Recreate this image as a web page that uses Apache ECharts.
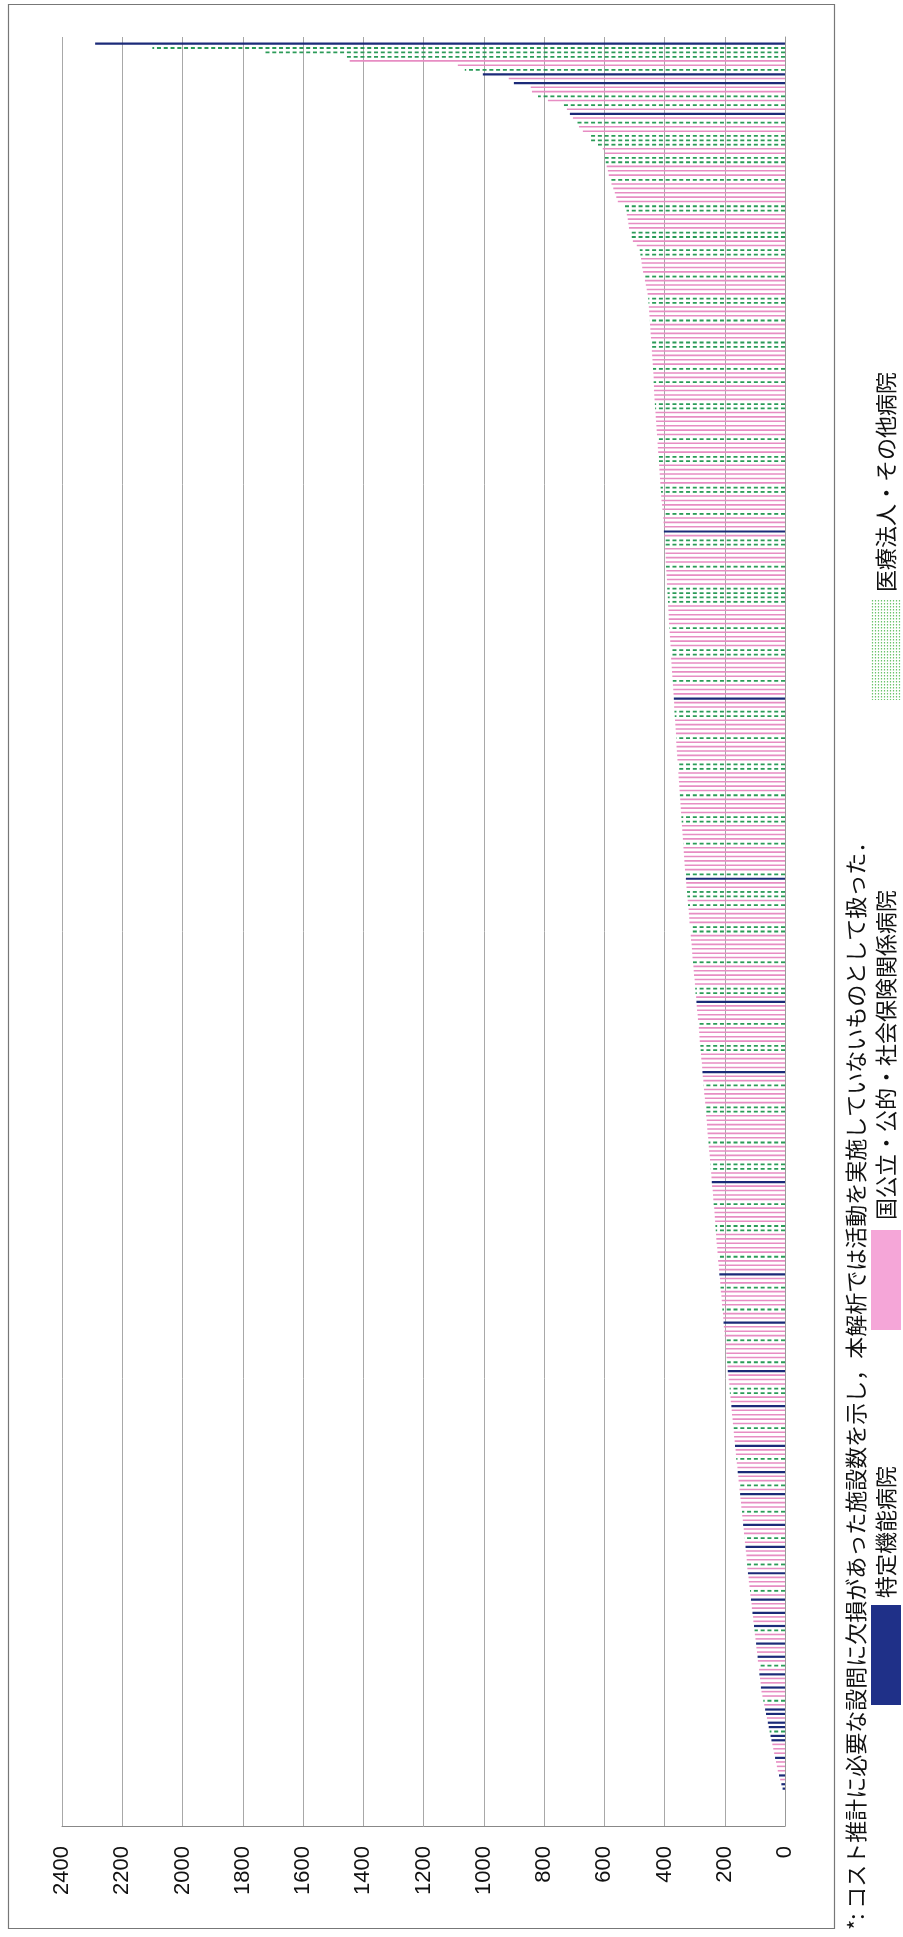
<!DOCTYPE html>
<html><head><meta charset="utf-8">
<script src="https://cdn.jsdelivr.net/npm/echarts@6/dist/echarts.min.js"></script>
<style>html,body{margin:0;padding:0;background:#fff}#c{width:903px;height:1937px}</style>
</head><body><div id="c"></div>
<script>
// values listed from the top category (largest) down to the bottom category
const values = [
0,
2290,2100,1728,1455,1445,1086,1063,1003,917,900,
844,840,820,787,737,724,714,704,691,684,
671,648,645,621,605,598,598,
595,592,588,585,580,576,570,565,560,
555,532,526,525,522,520,518,517,515,505,492,
482,480,478,476,474,471,468,465,462,459,456,
454,453,452,451,450,449,448,447,446,445,444,443,442,441,440,439,438,437,436,436,435,435,
434,433,432,431,430,429,428,427,426,425,424,423,422,421,420,419,418,417,416,415,414,413,412,411,410,408,407,405,
404,403,402,402,401,400,399,398,397,396,396,395,394,393,392,392,391,390,389,388,388,387,386,386,385,
384,383,382,381,380,379,378,378,377,376,375,374,373,372,371,370,369,368,368,367,366,365,364,363,362,361,361,360,
359,358,357,356,355,354,353,352,351,350,349,348,347,346,345,344,343,342,341,340,339,338,337,336,335,334,333,332,330,
329,328,327,325,324,323,322,320,319,318,317,315,314,313,312,310,309,308,307,305,304,303,302,300,
299,298,297,295,294,293,292,290,289,288,286,285,284,283,281,280,279,278,276,275,274,273,271,270,269,268,266,265,
264,263,262,260,259,258,257,255,254,253,252,250,249,248,247,245,244,243,242,240,239,238,237,235,234,233,232,231,230,
229,228,227,225,224,223,222,220,219,218,216,215,214,213,211,210,209,208,206,205,204,203,201,200,199,198,196,195,
194,192,191,190,188,187,185,184,183,181,180,178,177,176,174,173,171,170,169,167,166,164,163,162,160,
158,157,155,154,152,151,149,148,146,145,143,142,140,139,137,136,134,133,131,130,128,127,126,125,
123,121,120,118,116,115,113,111,110,108,106,105,103,101,100,98,96,95,93,91,90,88,86,85,83,81,80,78,75,
72,69,66,63,60,57,54,51,48,45,42,39,36,33,30,27,24,20,16,12,8,
0,0,0,0,0,0,0,0
];
// hospital type of each category: n = 特定機能病院, p = 国公立・公的・社会保険関係病院, g = 医療法人・その他病院
const types = "p" +
"ngggppgnpnppgpgpnpgppgggppg" +
"gpppgpppppggppppggppggppppgpp" +
"ppggpppgpp"+"ppggppppgp"+"pgppppggpp"+"ppppgpppgg"+"pppppggppp"+
"pgpppnpggp"+"pppgppppgg"+"ggpppppgpp"+"ppggpppppg"+"pppnppggpp"+
"ppgpppppgg"+"pppppgpppp"+"ggppppgppp"+"pppgnppggp"+"gppppggppp"+
"pppgpppppg"+"gpnppppgpp"+"ppggppppnp"+"pgppppggpp"+"ppppgppppg"+
"gppnppppgp"+"pppggppppp"+"gpppnppgpp"+"ppgppnpppg"+"ppppgpnppp"+
"ggppnppppg"+"pppnppgppn"+"ppgpnpppgp"+"pnppgpnppp"+"gpnpppgpnp"+
"pnppngppnp"+"pnpgpnppnp"+"p"+
"gpnnpnngnnpppnpppnpnn"+
"pppppppp";
const tickMin = 0, tickMax = 2400, tickStep = 200;
const legendNames = ['特定機能病院', '国公立・公的・社会保険関係病院', '医療法人・その他病院'];
const footnote = '*: コスト推計に必要な設問に欠損があった施設数を示し，本解析では活動を実施していないものとして扱った．';

const cats = values.map((v, i) => String(i + 1));
const pick = c => values.map((v, i) => (types[i] === c ? v : '-'));

const NAVY = '#1b2a78', PINK = '#e78dc3', GREEN = '#2b9b58';
const chart = echarts.init(document.getElementById('c'), null, {renderer: 'canvas'});
const R = Math.PI / 2;
const JP = 'Noto Sans CJK JP';

// green legend swatch: fine vertical dotted lines
const greenSwatch = [];
for (let k = 0; k < 10; k++) {
  greenSwatch.push({type: 'line', shape: {x1: 872.5 + k * 3, y1: 600, x2: 872.5 + k * 3, y2: 700},
    style: {stroke: '#6cc46c', lineWidth: 1.2, lineDash: [1.5, 1.5]}, silent: true});
}

chart.setOption({
  animation: false,
  backgroundColor: '#fff',
  grid: {left: 62, right: 118, top: 37, bottom: 111, containLabel: false},
  xAxis: {
    type: 'value', inverse: true, min: tickMin, max: tickMax, interval: tickStep, position: 'bottom',
    axisLine: {show: true, lineStyle: {color: '#888', width: 1}},
    axisTick: {show: false},
    splitLine: {show: true, lineStyle: {color: '#a8a8a8', width: 1}},
    axisLabel: {rotate: 90, fontSize: 22, color: '#111', fontFamily: 'Liberation Sans', margin: 20,
      formatter: v => String(v)}
  },
  yAxis: {
    type: 'category', inverse: true, data: cats, position: 'right',
    axisLine: {show: true, lineStyle: {color: '#999'}},
    axisTick: {show: false}, axisLabel: {show: false}, splitLine: {show: false}
  },
  series: [
    {name: legendNames[1], type: 'bar', data: pick('p'), barWidth: 1.6, barGap: '-100%', itemStyle: {color: PINK}},
    {name: legendNames[0], type: 'bar', data: pick('n'), barWidth: 2.2, barGap: '-100%', itemStyle: {color: NAVY}},
    {name: legendNames[2], type: 'pictorialBar', data: pick('g'), symbol: 'rect', symbolSize: [4, 1.8],
     symbolRepeat: true, symbolMargin: 1.4, symbolClip: true, itemStyle: {color: GREEN}}
  ],
  graphic: [
    {type: 'rect', shape: {x: 8.5, y: 4.5, width: 826, height: 1924}, style: {fill: 'none', stroke: '#777', lineWidth: 1.2}, silent: true},
    {type: 'text', x: 856, y: 1930, rotation: R,
     style: {text: footnote, fontSize: 22, fill: '#111', fontFamily: JP, align: 'left', verticalAlign: 'middle'}},
    {type: 'rect', shape: {x: 871, y: 1605, width: 30, height: 100}, style: {fill: '#1f3088'}},
    {type: 'text', x: 886, y: 1598, rotation: R,
     style: {text: legendNames[0], fontSize: 22, fill: '#111', fontFamily: JP, align: 'left', verticalAlign: 'middle'}},
    {type: 'rect', shape: {x: 871, y: 1230, width: 30, height: 100}, style: {fill: '#f5a6d8'}},
    {type: 'text', x: 886, y: 1220, rotation: R,
     style: {text: legendNames[1], fontSize: 22, fill: '#111', fontFamily: JP, align: 'left', verticalAlign: 'middle'}},
    ...greenSwatch,
    {type: 'text', x: 886, y: 592, rotation: R,
     style: {text: legendNames[2], fontSize: 22, fill: '#111', fontFamily: JP, align: 'left', verticalAlign: 'middle'}}
  ]
});
</script></body></html>
